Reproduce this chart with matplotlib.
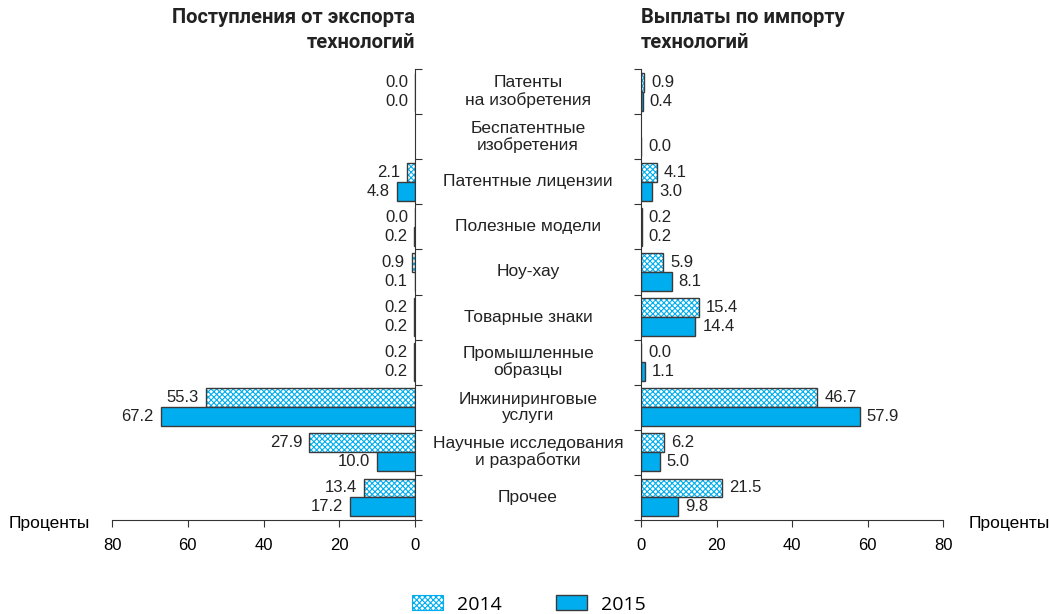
import numpy as np
import matplotlib.pyplot as plt
from matplotlib.patches import Patch
from matplotlib.transforms import blended_transform_factory

plt.rcParams['font.family'] = ['Liberation Sans', 'DejaVu Sans']
plt.rcParams['hatch.linewidth'] = 0.8

categories = ['Патенты\nна изобретения', 'Беспатентные\nизобретения', 'Патентные лицензии',
              'Полезные модели', 'Ноу-хау', 'Товарные знаки', 'Промышленные\nобразцы',
              'Инжиниринговые\nуслуги', 'Научные исследования\nи разработки', 'Прочее']
export_2014 = [0.0, np.nan, 2.1, 0.0, 0.9, 0.2, 0.2, 55.3, 27.9, 13.4]
export_2015 = [0.0, np.nan, 4.8, 0.2, 0.1, 0.2, 0.2, 67.2, 10.0, 17.2]
import_2014 = [0.9, np.nan, 4.1, 0.2, 5.9, 15.4, 0.0, 46.7, 6.2, 21.5]
import_2015 = [0.4, 0.0, 3.0, 0.2, 8.1, 14.4, 1.1, 57.9, 5.0, 9.8]
xticks = [0, 20, 40, 60, 80]

blue = '#00AEEF'
edge = '#3a3a3a'
h = 0.42
y = np.arange(len(categories))

fig = plt.figure(figsize=(10.49, 6.14), dpi=100)
axL = fig.add_axes([0.1068, 0.1531, 0.2889, 0.7345])
axR = fig.add_axes([0.6111, 0.1531, 0.2880, 0.7345])


def draw(ax, v14, v15, side):
    v14 = np.array(v14, dtype=float)
    v15 = np.array(v15, dtype=float)
    m14 = ~np.isnan(v14)
    m15 = ~np.isnan(v15)
    # hatched 2014 bars
    ax.barh(y[m14] - h / 2, v14[m14], height=h, color='white', edgecolor=blue,
            hatch='xxxxxx', linewidth=0)
    ax.barh(y[m14] - h / 2, v14[m14], height=h, fill=False, edgecolor=edge, linewidth=1)
    ax.barh(y[m15] + h / 2, v15[m15], height=h, color=blue, edgecolor=edge, linewidth=1)
    for vals, off in ((v14, -h / 2), (v15, h / 2)):
        for i, v in enumerate(vals):
            if np.isnan(v):
                continue
            if side == 'left':
                ax.annotate(f'{v:.1f}', (v, i + off), xytext=(-5, 0), textcoords='offset points',
                            ha='right', va='center', fontsize=12, color='#222222')
            else:
                ax.annotate(f'{v:.1f}', (v, i + off), xytext=(5, 0), textcoords='offset points',
                            ha='left', va='center', fontsize=12, color='#222222')
    ax.set_ylim(len(categories) - 0.5, -0.5)
    ax.set_yticks(np.arange(len(categories) + 1) - 0.5)
    ax.set_yticklabels([])
    ax.set_xticks(xticks)
    ax.set_xticklabels([str(t) for t in xticks], fontsize=12)
    ax.tick_params(axis='both', length=5, color='#333333', direction='out', pad=8)
    ax.spines['top'].set_visible(False)
    for s in ax.spines.values():
        s.set_color('#333333')


draw(axL, export_2014, export_2015, 'left')
axL.set_xlim(80, 0)
axL.spines['left'].set_visible(False)
axL.yaxis.tick_right()
axL.text(-0.073, -0.008, 'Проценты', transform=axL.transAxes, ha='right', va='center', fontsize=12.5)

draw(axR, import_2014, import_2015, 'right')
axR.set_xlim(0, 80)
axR.spines['right'].set_visible(False)
axR.text(1.083, -0.008, 'Проценты', transform=axR.transAxes, ha='left', va='center', fontsize=12.5)

tr = blended_transform_factory(fig.transFigure, axL.transData)
for i, c in enumerate(categories):
    fig.text(528 / 1049, i, c, transform=tr, ha='center', va='center', fontsize=12.5,
             linespacing=1.1, color='#222222')

title_font = dict(fontsize=14.5, fontweight='bold', family=['Roboto', 'DejaVu Sans'],
                  color='#222222', linespacing=1.4)
fig.text(415 / 1049, 1 - 8 / 614, 'Поступления от экспорта\nтехнологий', ha='right', va='top',
         multialignment='right', **title_font)
fig.text(641 / 1049, 1 - 8 / 614, 'Выплаты по импорту\nтехнологий', ha='left', va='top',
         multialignment='left', **title_font)

handles = [Patch(facecolor='white', edgecolor=blue, hatch='xxxxxx', linewidth=0.8),
           Patch(facecolor=blue, edgecolor=edge, linewidth=1)]
fig.legend(handles, ['2014', '2015'], loc='lower center', bbox_to_anchor=(529 / 1049, -0.028), ncol=2,
           frameon=False, prop={'family': ['Open Sans', 'DejaVu Sans'], 'size': 14},
           handlelength=1.6, handleheight=0.8, handletextpad=0.7, columnspacing=2.8)

fig.savefig('out.png', dpi=100)
